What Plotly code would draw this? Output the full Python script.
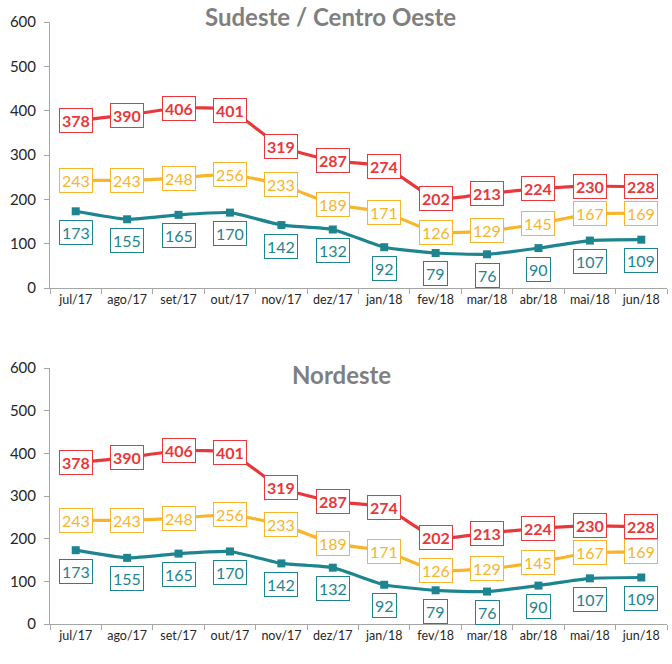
import plotly.graph_objects as go
from plotly.subplots import make_subplots

months = ["jul/17", "ago/17", "set/17", "out/17", "nov/17", "dez/17",
          "jan/18", "fev/18", "mar/18", "abr/18", "mai/18", "jun/18"]
red_vals = [378, 390, 406, 401, 319, 287, 274, 202, 213, 224, 230, 228]
yellow_vals = [243, 243, 248, 256, 233, 189, 171, 126, 129, 145, 167, 169]
teal_vals = [173, 155, 165, 170, 142, 132, 92, 79, 76, 90, 107, 109]
y_ticks = [0, 100, 200, 300, 400, 500, 600]
titles = ["Sudeste / Centro Oeste", "Nordeste"]

RED = "#E8383B"
YEL = "#F7B52C"
TEAL = "#1E8590"
FONT = "Lato, 'Open Sans', sans-serif"

fig = make_subplots(rows=2, cols=1)

series = [
    (red_vals, RED, None, 0, True),
    (yellow_vals, YEL, None, 0, False),
    (teal_vals, TEAL, "square", -21, False),
]

for row in (1, 2):
    for vals, col, marker, yshift, bold in series:
        fig.add_trace(go.Scatter(
            x=months, y=vals, mode="lines+markers" if marker else "lines",
            line=dict(color=col, width=3.2, shape="spline", smoothing=0.5),
            marker=dict(symbol=marker or "circle", size=8, color=col),
            showlegend=False, hoverinfo="skip"), row=row, col=1)
        xr = "x" if row == 1 else "x2"
        yr = "y" if row == 1 else "y2"
        for m, v in zip(months, vals):
            fig.add_annotation(
                x=m, y=v, xref=xr, yref=yr, yshift=yshift,
                text=f"<b>{v}</b>" if bold else str(v), showarrow=False,
                font=dict(family=FONT, size=16, color=col),
                bgcolor="white", bordercolor=col, borderwidth=1, borderpad=2)

W, H = 672, 664
ml, mr, mt, mb = 50, 5, 22, 40
pw, ph = W - ml - mr, H - mt - mb


def px_x(p):
    return (p - ml) / pw


def px_y(p):
    return (H - mb - p) / ph


for t, (cx, cy) in zip(titles, [(330, 16), (341, 374)]):
    fig.add_annotation(text=f"<b>{t}</b>", x=px_x(cx), y=px_y(cy), xref="paper",
                       yref="paper", showarrow=False, xanchor="center",
                       yanchor="middle",
                       font=dict(family=FONT, size=24, color="#7F7F7F"))

ydomains = [[px_y(288), 1.0], [0.0, px_y(368)]]
for i, (xa, ya) in enumerate([("xaxis", "yaxis"), ("xaxis2", "yaxis2")]):
    fig.layout[xa].update(
        domain=[0, 1], type="category", range=[-0.5, 11.5],
        tickson="boundaries", ticks="outside", ticklen=5, tickcolor="#A6A6A6",
        showline=True, linecolor="#A6A6A6", linewidth=1, showgrid=False,
        tickfont=dict(family=FONT, size=12.5, color="#262626"), zeroline=False)
    fig.layout[ya].update(
        domain=ydomains[i], range=[0, 600], tickvals=y_ticks,
        ticks="outside", ticklen=5, tickcolor="#A6A6A6", ticklabelstandoff=5,
        showline=True, linecolor="#A6A6A6", linewidth=1, showgrid=False,
        zeroline=False, tickfont=dict(family=FONT, size=15, color="#262626"))

fig.update_layout(width=W, height=H, margin=dict(l=ml, r=mr, t=mt, b=mb),
                  plot_bgcolor="white", paper_bgcolor="white")

fig.write_html("out.html", config={"displayModeBar": False},
               post_script="document.body.style.margin='0';"
                           "document.body.style.overflow='hidden';")
